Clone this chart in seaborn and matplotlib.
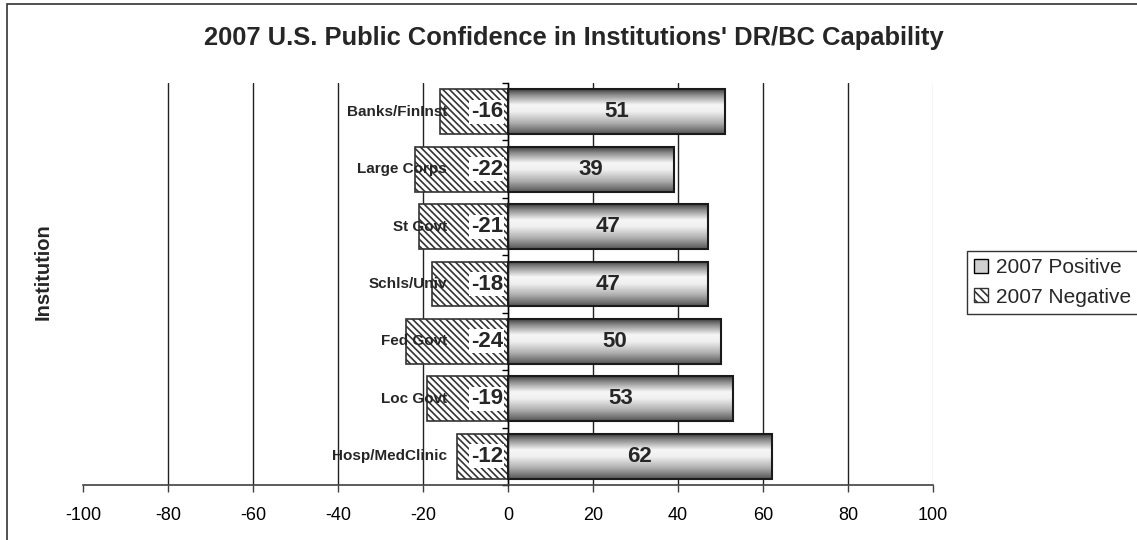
import numpy as np
import pandas as pd
import seaborn as sns
import matplotlib.pyplot as plt
import matplotlib.colors as mcolors
import matplotlib.transforms as mtransforms
from matplotlib.patches import Rectangle, Patch

institutions = ["Banks/FinInst", "Large Corps", "St Govt", "Schls/Univ",
                "Fed Govt", "Loc Govt", "Hosp/MedClinic"]
positive = [51, 39, 47, 47, 50, 53, 62]
negative = [-16, -22, -21, -18, -24, -19, -12]
series_names = ["2007 Positive", "2007 Negative"]
x_ticks = list(range(-100, 101, 20))

df = pd.DataFrame({
    "institution": institutions * 2,
    "value": positive + negative,
    "series": [series_names[0]] * len(positive) + [series_names[1]] * len(negative),
})

sns.set_theme(style="white")
plt.rcParams["font.family"] = ["Liberation Sans", "DejaVu Sans"]
plt.rcParams["hatch.linewidth"] = 1.2
plt.rcParams["hatch.color"] = "#333333"

fig = plt.figure(figsize=(11.37, 5.4), dpi=100)
ax = fig.add_axes([83 / 1137, 1 - 485 / 540, 850 / 1137, 402 / 540])

sns.barplot(data=df, y="institution", x="value", hue="series", order=institutions,
            hue_order=series_names, dodge=False, orient="h", width=0.78,
            legend=False, ax=ax)

# cylinder-like shading for positive bars
cmap = mcolors.LinearSegmentedColormap.from_list(
    "cyl", [(0, "#404040"), (0.12, "#888888"), (0.35, "#f6f6f6"),
            (0.5, "#f0f0f0"), (0.75, "#b0b0b0"), (1, "#555555")])
grad = np.linspace(0, 1, 200).reshape(-1, 1)
for bar in ax.containers[0]:
    x0, y0, w, h = bar.get_x(), bar.get_y(), bar.get_width(), bar.get_height()
    im = ax.imshow(grad, cmap=cmap, aspect="auto", extent=[x0, x0 + w, y0 + h, y0],
                   origin="upper", zorder=2, interpolation="bilinear")
    im.set_clip_path(bar)
    bar.set_facecolor("none")
    bar.set_edgecolor("#1a1a1a")
    bar.set_linewidth(1.5)
    bar.set_zorder(3)

for bar in ax.containers[1]:
    bar.set_facecolor("white")
    bar.set_edgecolor("#333333")
    bar.set_linewidth(1.2)
    bar.set_hatch("\\\\\\\\\\")
    bar.set_zorder(1)

# value labels
for i, v in enumerate(positive):
    ax.text(v / 2, i, str(v), ha="center", va="center", fontsize=16,
            fontweight="bold", zorder=6)
for i, v in enumerate(negative):
    ax.text(-5, i, str(v), ha="center", va="center", fontsize=16,
            fontweight="bold", zorder=6,
            bbox=dict(facecolor="white", edgecolor="none", pad=1.2))

# category labels sitting left of the zero axis
lab_tr = mtransforms.offset_copy(ax.transData, fig=fig, x=-61, y=0, units="dots")
for i, name in enumerate(institutions):
    ax.text(0, i, name, transform=lab_tr, ha="right", va="center",
            fontsize=11, fontweight="bold", zorder=5)

ax.set_xlim(-100, 100)
ax.set_ylim(len(institutions) - 0.5, -0.5)
ax.set_xticks(x_ticks)
ax.set_xticklabels([str(t) for t in x_ticks])
ax.set_yticks(range(len(institutions)))
ax.set_yticklabels([])
ax.set_yticks(np.arange(-0.5, len(institutions), 1), minor=True)

ax.set_axisbelow(True)
ax.grid(axis="x", color="#222222", linewidth=1)
ax.grid(axis="y", visible=False)
gl = ax.xaxis.get_gridlines()
gl[0].set_visible(False)
gl[-1].set_color("#cccccc")

for side in ["top", "right"]:
    ax.spines[side].set_visible(False)
ax.spines["left"].set_position(("data", 0))
ax.spines["left"].set_color("black")
ax.spines["left"].set_linewidth(1)
ax.spines["bottom"].set_color("#404040")
ax.spines["bottom"].set_linewidth(1.2)

ax.tick_params(axis="x", which="major", direction="out", length=5, width=1,
               color="#404040", pad=11, labelsize=13, labelcolor="black", bottom=True)
ax.tick_params(axis="y", which="major", length=0)
ax.tick_params(axis="y", which="minor", direction="out", length=4, width=1,
               color="black", left=True)

ax.set_xlabel("")
ax.set_ylabel("")

fig.text(43 / 1137, 1 - 272 / 540, "Institution", rotation=90, ha="center",
         va="center", fontsize=14.5, fontweight="bold")
fig.text(574 / 1137, 1 - 38 / 540,
         "2007 U.S. Public Confidence in Institutions' DR/BC Capability",
         ha="center", va="center", fontsize=18.4, fontweight="bold")

handles = [Patch(facecolor="#d0d0d0", edgecolor="black", linewidth=1),
           Patch(facecolor="white", edgecolor="#333333", hatch="\\\\\\\\", linewidth=1)]
leg = fig.legend(handles, series_names, loc="upper left",
                 bbox_to_anchor=(967 / 1137, 1 - 251 / 540), fontsize=15,
                 frameon=True, fancybox=False, handlelength=0.65, handleheight=0.65,
                 handletextpad=0.4, borderpad=0.35, labelspacing=0.5,
                 borderaxespad=0)
leg.get_frame().set_edgecolor("black")
leg.get_frame().set_linewidth(1)

# outer chart frame (right and bottom edges fall outside the image)
fig.patches.append(Rectangle((7 / 1137, -0.1), 1.2, 1.1 - 4 / 540,
                             transform=fig.transFigure, fill=False,
                             edgecolor="#333333", linewidth=1.2))

fig.savefig("out.png", dpi=100)
